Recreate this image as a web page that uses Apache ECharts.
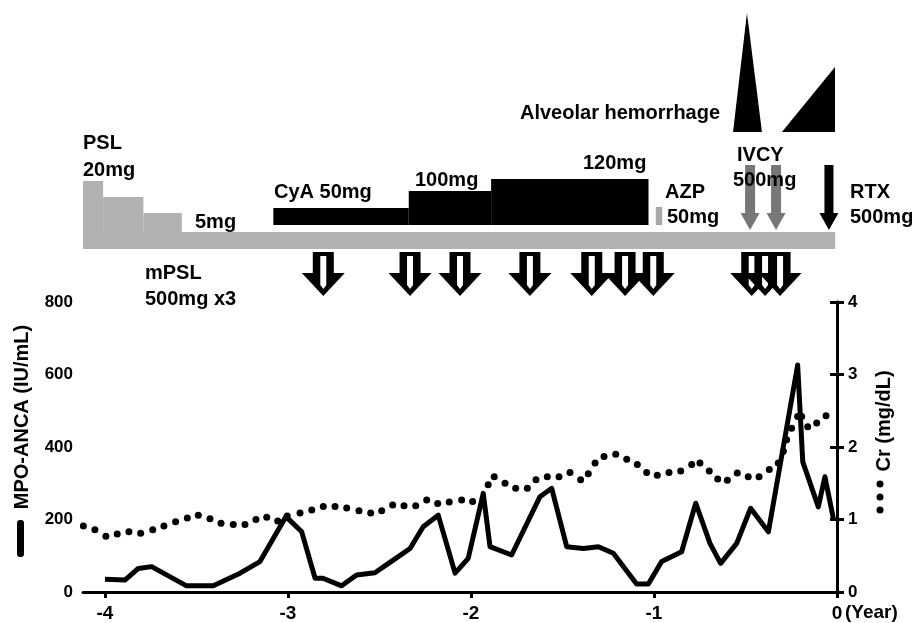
<!DOCTYPE html>
<html>
<head>
<meta charset="utf-8">
<script src="https://cdn.jsdelivr.net/npm/echarts@6/dist/echarts.min.js"></script>
<style>
  html, body { margin: 0; padding: 0; background: #fff; }
</style>
</head>
<body>
<div id="chart" style="width: 912px;height:623px;"></div>
<script type="text/javascript">

    // MPO-ANCA (IU/mL), x = years before present
    var mpoYears = [-4.000, -3.891, -3.818, -3.745, -3.554, -3.408, -3.262, -3.153, -3.011, -2.925,
        -2.852, -2.809, -2.707, -2.625, -2.525, -2.425, -2.333, -2.261, -2.179, -2.087,
        -2.015, -1.933, -1.896, -1.778, -1.623, -1.559, -1.477, -1.386, -1.304, -1.222,
        -1.095, -1.031, -0.958, -0.849, -0.772, -0.694, -0.636, -0.548, -0.472, -0.375,
        -0.215, -0.187, -0.102, -0.066, -0.020];
    var mpoValues = [35, 33, 65, 70, 17, 17, 52, 84, 208, 166,
        38, 38, 17, 47, 53, 88, 120, 180, 212, 52,
        93, 272, 125, 102, 263, 286, 125, 120, 125, 107,
        22, 22, 84, 111, 245, 134, 79, 134, 231, 166,
        626, 359, 235, 318, 203];

    // Cr (mg/dL)
    var crYears = [-4.118, -4.055, -3.995, -3.933, -3.869, -3.805, -3.739, -3.678, -3.614, -3.550,
        -3.490, -3.426, -3.366, -3.299, -3.235, -3.175, -3.116, -3.056, -3.004, -2.934,
        -2.870, -2.807, -2.743, -2.679, -2.612, -2.548, -2.488, -2.428, -2.366, -2.302,
        -2.242, -2.182, -2.119, -2.051, -1.991, -1.906, -1.873, -1.814, -1.756, -1.692,
        -1.645, -1.583, -1.519, -1.459, -1.401, -1.359, -1.322, -1.273, -1.209, -1.149,
        -1.091, -1.040, -0.982, -0.918, -0.854, -0.794, -0.749, -0.698, -0.652, -0.599,
        -0.545, -0.485, -0.426, -0.370, -0.321, -0.293, -0.275, -0.248, -0.215, -0.193,
        -0.160, -0.111, -0.060];
    var crValues = [0.91, 0.86, 0.77, 0.80, 0.83, 0.81, 0.86, 0.91, 0.97, 1.02,
        1.06, 1.01, 0.95, 0.93, 0.93, 1.00, 1.03, 0.98, 1.05, 1.09,
        1.13, 1.18, 1.18, 1.16, 1.12, 1.09, 1.12, 1.20, 1.19, 1.19,
        1.27, 1.22, 1.24, 1.27, 1.25, 1.48, 1.59, 1.50, 1.43, 1.43,
        1.55, 1.59, 1.59, 1.65, 1.55, 1.63, 1.78, 1.87, 1.90, 1.83,
        1.76, 1.65, 1.61, 1.65, 1.67, 1.76, 1.78, 1.67, 1.56, 1.54,
        1.64, 1.59, 1.59, 1.69, 1.78, 1.94, 2.10, 2.26, 2.42, 2.42,
        2.28, 2.33, 2.43];

    var xTicks = [-4, -3, -2, -1, 0];

    // treatment timeline: [start, end, bar height] (height in arbitrary units)
    var pslSteps = [[-4.12, -4.01, 68], [-4.01, -3.79, 52], [-3.79, -3.58, 36], [-4.12, -0.01, 17]];
    var cyaSteps = [[-3.08, -2.34, 41], [-2.34, -1.89, 58], [-1.89, -1.03, 70]];
    var cyaBase = 24;
    var azpSteps = [[-0.99, -0.955, 42]];
    var ivcyDays = [-0.475, -0.333];
    var rtxDays = [-0.044];
    var pulseDays = [-2.807, -2.333, -2.060, -1.678, -1.340, -1.158, -1.004, -0.466, -0.393, -0.311];
    var hemorrhage = [
        [[-0.568, 117], [-0.492, 236], [-0.410, 117]],
        [[-0.301, 117], [-0.011, 182], [-0.011, 117]]
    ];

    var FONT = "'Liberation Sans', Arial, sans-serif";

    function stepSeries(list, base, color) {
        return {
            type: 'custom', coordinateSystem: 'cartesian2d', xAxisIndex: 1, yAxisIndex: 2,
            silent: true, clip: false,
            data: list,
            renderItem: function (params, api) {
                var p0 = api.coord([api.value(0), api.value(2)]);
                var p1 = api.coord([api.value(1), base]);
                return {type: 'rect', shape: {x: p0[0], y: p0[1], width: p1[0] - p0[0], height: p1[1] - p0[1]},
                    style: {fill: color}};
            }
        };
    }

    function downArrowSeries(days, top, headStart, tip, shaftW, headW, color, z) {
        return {
            type: 'custom', coordinateSystem: 'cartesian2d', xAxisIndex: 1, yAxisIndex: 2,
            silent: true, clip: false, z: z,
            data: days.map(function (d) { return [d, top]; }),
            renderItem: function (params, api) {
                var x = api.coord([api.value(0), top])[0];
                var yt = api.coord([0, top])[1];
                var yh = api.coord([0, headStart])[1];
                var yp = api.coord([0, tip])[1];
                var s = shaftW / 2, h = headW / 2;
                return {type: 'polygon', shape: {points: [[x - s, yt], [x + s, yt], [x + s, yh], [x + h, yh],
                        [x, yp], [x - h, yh], [x - s, yh]]}, style: {fill: color}};
            }
        };
    }

    function hollowArrowSeries(days) {
        return {
            type: 'custom', coordinateSystem: 'cartesian2d', xAxisIndex: 1, yAxisIndex: 2,
            silent: true, clip: false, z: 3,
            data: days.map(function (d) { return [d, -3]; }),
            renderItem: function (params, api) {
                var x = api.coord([api.value(0), -3])[0];
                var yt = api.coord([0, -3])[1];
                var yh = api.coord([0, -24])[1];
                var yp = api.coord([0, -47])[1];
                return {
                    type: 'group', children: [
                        {type: 'polygon', shape: {points: [[x - 10.5, yt], [x + 10.5, yt], [x + 10.5, yh], [x + 21.5, yh],
                                [x, yp], [x - 21.5, yh], [x - 10.5, yh]]}, style: {fill: '#000'}},
                        {type: 'polygon', shape: {points: [[x - 3, yt + 4], [x + 3, yt + 4], [x + 3, yp - 11],
                                [x, yp - 7], [x - 3, yp - 11]]}, style: {fill: '#fff'}}
                    ]
                };
            }
        };
    }

    function label(text, x, y) {
        return {type: 'text', x: x, y: y, silent: true, z: 10,
            style: {text: text, fill: '#000', font: 'bold 20px ' + FONT, textVerticalAlign: 'middle', verticalAlign: 'middle'}};
    }

    var option = {
        animation: false,
        backgroundColor: '#fff',
        grid: [
            {left: 83, right: 75, top: 302, bottom: 31},
            {left: 83, right: 75, top: 0, height: 300}
        ],
        xAxis: [
            {
                type: 'value', min: -4.12, max: 0, gridIndex: 0,
                axisLine: {lineStyle: {color: '#000', width: 3}},
                axisTick: {customValues: xTicks, length: 6, lineStyle: {color: '#000', width: 3}},
                axisLabel: {customValues: xTicks, margin: 12, color: '#000', fontSize: 19, fontWeight: 'bold', fontFamily: FONT},
                splitLine: {show: false}
            },
            {type: 'value', min: -4.12, max: 0, gridIndex: 1, show: false}
        ],
        yAxis: [
            {
                type: 'value', min: 0, max: 800, interval: 200, gridIndex: 0,
                axisLine: {show: true, lineStyle: {color: '#000', width: 3}},
                axisTick: {show: true, length: 7, lineStyle: {color: '#000', width: 3}},
                axisLabel: {margin: 10, color: '#000', fontSize: 17, fontWeight: 'bold', fontFamily: FONT},
                splitLine: {show: false}
            },
            {
                type: 'value', min: 0, max: 4, interval: 1, gridIndex: 0, position: 'right',
                axisLine: {show: true, lineStyle: {color: '#000', width: 3}},
                axisTick: {show: true, length: 7, lineStyle: {color: '#000', width: 3}},
                axisLabel: {margin: 11, color: '#000', fontSize: 17, fontWeight: 'bold', fontFamily: FONT},
                splitLine: {show: false}
            },
            {type: 'value', min: -51, max: 249, gridIndex: 1, show: false}
        ],
        series: [
            {
                name: 'MPO-ANCA', type: 'line', xAxisIndex: 0, yAxisIndex: 0,
                data: mpoYears.map(function (x, i) { return [x, mpoValues[i]]; }),
                symbol: 'none', lineStyle: {color: '#000', width: 5, join: 'round'}, z: 3
            },
            {
                name: 'Cr', type: 'scatter', xAxisIndex: 0, yAxisIndex: 1,
                data: crYears.map(function (x, i) { return [x, crValues[i]]; }),
                symbolSize: 7, itemStyle: {color: '#000', opacity: 1}, z: 2
            },
            stepSeries(pslSteps, 0, '#b2b2b2'),
            stepSeries(cyaSteps, cyaBase, '#000'),
            stepSeries(azpSteps, cyaBase, '#a8a8a8'),
            downArrowSeries(ivcyDays, 84, 36, 19, 10, 19, '#777', 3),
            downArrowSeries(rtxDays, 84, 36, 19, 9, 19, '#000', 3),
            hollowArrowSeries(pulseDays),
            {
                type: 'custom', coordinateSystem: 'cartesian2d', xAxisIndex: 1, yAxisIndex: 2,
                silent: true, clip: false,
                data: hemorrhage.map(function (t) { return t[0]; }),
                renderItem: function (params, api) {
                    var pts = hemorrhage[params.dataIndex].map(function (p) { return api.coord(p); });
                    return {type: 'polygon', shape: {points: pts}, style: {fill: '#000'}};
                }
            }
        ],
        graphic: [
            label('PSL', 83, 143),
            label('20mg', 83, 170),
            label('5mg', 195, 222),
            label('CyA 50mg', 274, 192),
            label('100mg', 415, 180),
            label('120mg', 583, 163),
            label('AZP', 665, 192),
            label('50mg', 667, 217),
            label('Alveolar hemorrhage', 520, 113),
            label('IVCY', 737, 155),
            label('500mg', 733, 180),
            label('RTX', 850, 192),
            label('500mg', 850, 217),
            label('mPSL', 145, 273),
            label('500mg x3', 145, 299),
            {type: 'text', x: 845, y: 613, silent: true,
                style: {text: '(Year)', fill: '#000', font: 'bold 19px ' + FONT, textVerticalAlign: 'middle', verticalAlign: 'middle'}},
            {type: 'text', x: 22, y: 417, rotation: Math.PI / 2, silent: true,
                style: {text: 'MPO-ANCA (IU/mL)', fill: '#000', font: 'bold 20px ' + FONT,
                    textAlign: 'center', align: 'center', textVerticalAlign: 'middle', verticalAlign: 'middle'}},
            {type: 'rect', shape: {x: 17, y: 520, width: 7, height: 37, r: 3}, style: {fill: '#000'}, silent: true},
            {type: 'text', x: 884, y: 421, rotation: Math.PI / 2, silent: true,
                style: {text: 'Cr (mg/dL)', fill: '#000', font: 'bold 20px ' + FONT,
                    textAlign: 'center', align: 'center', textVerticalAlign: 'middle', verticalAlign: 'middle'}},
            {type: 'circle', shape: {cx: 880, cy: 484, r: 3.5}, style: {fill: '#000'}, silent: true},
            {type: 'circle', shape: {cx: 880, cy: 497, r: 3.5}, style: {fill: '#000'}, silent: true},
            {type: 'circle', shape: {cx: 880, cy: 510, r: 3.5}, style: {fill: '#000'}, silent: true}
        ]
    };

    var myChart = echarts.init(document.getElementById('chart'));
    myChart.setOption(option);
</script>
</body>
</html>
